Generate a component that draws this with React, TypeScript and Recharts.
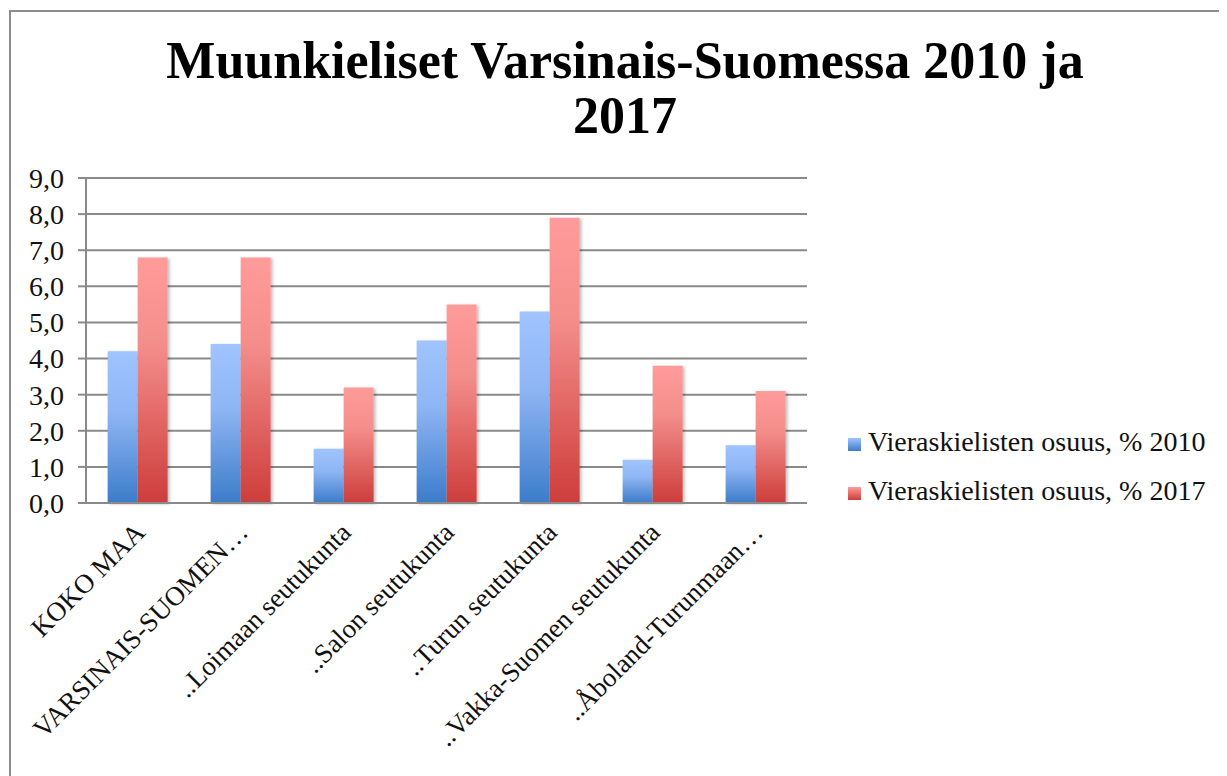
import { BarChart, Bar, XAxis, YAxis, CartesianGrid } from "recharts";

const regions = [
  "KOKO MAA",
  "VARSINAIS-SUOMEN…",
  "..Loimaan seutukunta",
  "..Salon seutukunta",
  "..Turun seutukunta",
  "..Vakka-Suomen seutukunta",
  "..Åboland-Turunmaan…",
];
const share2010 = [4.2, 4.4, 1.5, 4.5, 5.3, 1.2, 1.6];
const share2017 = [6.8, 6.8, 3.2, 5.5, 7.9, 3.8, 3.1];
const seriesNames = ["Vieraskielisten osuus, % 2010", "Vieraskielisten osuus, % 2017"];
const yTicks = [0, 1, 2, 3, 4, 5, 6, 7, 8, 9];
const boundaryTicks = [0, 1, 2, 3, 4, 5, 6, 7];

const FONT = '"Liberation Serif", "Times New Roman", serif';
const GRID = "#8a8a8a";

const data = regions.map((name, i) => ({
  name,
  pos: i + 0.5,
  v2010: share2010[i],
  v2017: share2017[i],
}));

function RegionTick(props: any) {
  const { x, y, payload } = props;
  const ax = x + 9;
  const ay = y + 28;
  return (
    <text
      x={ax}
      y={ay}
      textAnchor="end"
      transform={`rotate(-45, ${ax}, ${ay})`}
      fontFamily={FONT}
      fontSize={27}
      fill="#111"
    >
      {payload.value}
    </text>
  );
}

function LegendSwatch({ light, dark }: { light: string; dark: string }) {
  return (
    <span
      style={{
        display: "inline-block",
        width: 13,
        height: 13,
        marginRight: 7,
        background: `linear-gradient(${light}, ${dark})`,
      }}
    />
  );
}

export default function App() {
  return (
    <div style={{ position: "relative", width: 1219, height: 768, overflow: "hidden", background: "#fff" }}>
      <div
        style={{
          position: "absolute",
          left: 1,
          top: 2,
          width: 1400,
          height: 1000,
          border: "2px solid #8c8c8c",
        }}
      />
      <div
        style={{
          position: "absolute",
          left: 0,
          top: 25,
          width: 1234,
          textAlign: "center",
          fontFamily: FONT,
          fontWeight: "bold",
          fontSize: 52,
          lineHeight: "55px",
          color: "#000",
        }}
      >
        Muunkieliset Varsinais-Suomessa 2010 ja
        <br />
        2017
      </div>

      <div style={{ position: "absolute", left: 0, top: 0 }}>
        <BarChart
          width={1219}
          height={768}
          data={data}
          margin={{ top: 170, right: 420, left: 0, bottom: 0 }}
          barCategoryGap="21%"
          barGap={0}
        >
          <defs>
            <linearGradient id="gBlue" x1="0" y1="0" x2="0" y2="1">
              <stop offset="0" stopColor="#9fc4ff" />
              <stop offset="0.4" stopColor="#8fb6f4" />
              <stop offset="1" stopColor="#3c7cca" />
            </linearGradient>
            <linearGradient id="gRed" x1="0" y1="0" x2="0" y2="1">
              <stop offset="0" stopColor="#ff9b9a" />
              <stop offset="0.35" stopColor="#f48e8b" />
              <stop offset="1" stopColor="#cd3d3b" />
            </linearGradient>
            <filter id="barShadow" x="-10%" y="-5%" width="130%" height="110%">
              <feDropShadow dx="2" dy="1" stdDeviation="1.5" floodColor="#000" floodOpacity="0.25" />
            </filter>
          </defs>
          <CartesianGrid vertical={false} stroke={GRID} strokeWidth={2} />
          <XAxis
            xAxisId={0}
            type="number"
            dataKey="pos"
            domain={[0, 7]}
            ticks={boundaryTicks}
            tick={false}
            height={1}
            tickSize={8}
            stroke={GRID}
            strokeWidth={2}
            allowDataOverflow
          />
          <XAxis
            xAxisId={1}
            dataKey="name"
            height={272}
            interval={0}
            axisLine={false}
            tickLine={false}
            tickSize={0}
            tick={<RegionTick />}
          />
          <YAxis
            domain={[0, 9]}
            ticks={yTicks}
            interval={0}
            width={78}
            tickSize={8}
            tickMargin={14}
            stroke={GRID}
            strokeWidth={2}
            tickFormatter={(v: number) => v.toFixed(1).replace(".", ",")}
            tick={{ fontFamily: FONT, fontSize: 28, fill: "#111" }}
          />
          <Bar
            xAxisId={1}
            dataKey="v2010"
            name={seriesNames[0]}
            fill="url(#gBlue)"
            filter="url(#barShadow)"
            isAnimationActive={false}
          />
          <Bar
            xAxisId={1}
            dataKey="v2017"
            name={seriesNames[1]}
            fill="url(#gRed)"
            filter="url(#barShadow)"
            isAnimationActive={false}
          />
        </BarChart>
      </div>

      <div
        style={{
          position: "absolute",
          left: 840,
          top: 409,
          fontFamily: FONT,
          fontSize: 28,
          lineHeight: "49px",
          color: "#111",
          whiteSpace: "nowrap",
        }}
      >
        <div>
          <LegendSwatch light="#9fc4ff" dark="#3c7cca" />
          {seriesNames[0]}
        </div>
        <div>
          <LegendSwatch light="#ff9b9a" dark="#cd3d3b" />
          {seriesNames[1]}
        </div>
      </div>
    </div>
  );
}
